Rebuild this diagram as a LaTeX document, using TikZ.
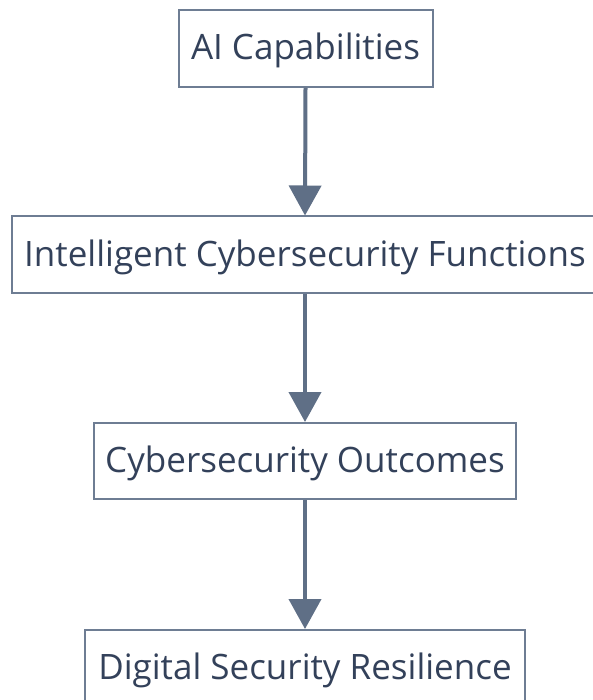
\documentclass[tikz,border=0pt]{standalone}
\usepackage{fontspec}
\setmainfont{Open Sans}
\usetikzlibrary{arrows.meta}
\definecolor{edgegray}{HTML}{6E7D93}
\definecolor{flowgray}{HTML}{5F6F86}
\definecolor{labelink}{HTML}{33415A}
\tikzset{
  stage/.style={draw=edgegray, line width=2pt, fill=white, text=labelink,
    inner sep=0pt, text height=31pt, text depth=8pt,
    font=\fontsize{35}{40}\selectfont},
  flow/.style={draw=flowgray, line width=4pt,
    -{Triangle[length=30pt,width=32pt,fill=flowgray]}, shorten >=0pt}
}
\begin{document}
\begin{tikzpicture}[x=1pt,y=-1pt]
\useasboundingbox (0,0) rectangle (593,700);
\fill[white] (0,0) rectangle (593,700);
\clip (0,0) rectangle (593,700);
\node[stage, minimum width=254pt, minimum height=77pt] (ai) at (305.5,48.5) {AI Capabilities};
\node[stage, minimum width=586pt, minimum height=76pt] (func) at (305,254.5) {Intelligent Cybersecurity Functions};
\node[stage, minimum width=422pt, minimum height=76pt] (out) at (305,461) {Cybersecurity Outcomes};
\node[stage, minimum width=440pt, minimum height=76pt] (res) at (305,668) {Digital Security Resilience};
\draw[flow] (ai.south) -- (func.north);
\draw[flow] (func.south) -- (out.north);
\draw[flow] (out.south) -- (res.north);
\end{tikzpicture}
\end{document}
